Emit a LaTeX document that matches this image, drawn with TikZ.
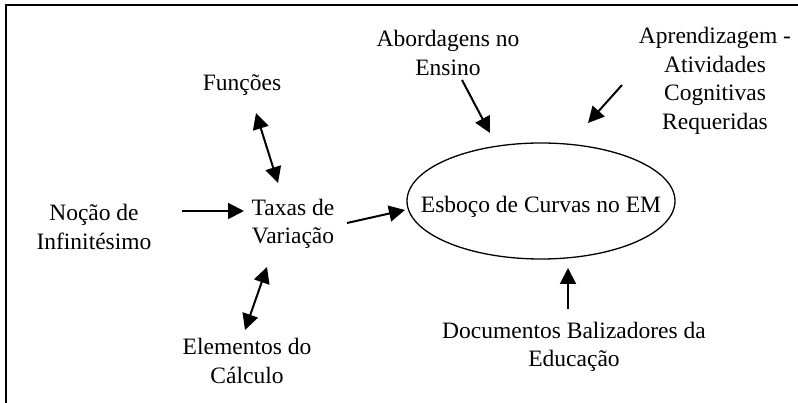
\documentclass[tikz,border=0pt]{standalone}
\usepackage{fontspec}
\setmainfont{Liberation Serif}
\usetikzlibrary{arrows.meta,shapes.geometric}
\begin{document}
\begin{tikzpicture}[x=1pt,y=-1pt,
  lbl/.style={inner sep=0pt,align=center,font=\fontsize{23.5}{28.5}\selectfont},
  arr/.style={line width=2pt,-{Triangle[length=16pt,width=16pt]}},
  darr/.style={line width=2pt,{Triangle[length=16pt,width=16pt]}-{Triangle[length=16pt,width=16pt]}}]
\useasboundingbox (0,0) rectangle (798,403);
\draw[line width=2.2pt] (6,403) -- (6,5) -- (798,5);
\node[lbl] (fun) at (242,85) {Funções};
\node[lbl] (abo) at (448,53) {Abordagens no\\Ensino};
\node[lbl] (apr) at (715,81) {Aprendizagem -\\Atividades\\Cognitivas\\Requeridas};
\node[lbl] (noc) at (94,227) {Noção de\\Infinitésimo};
\node[lbl] (tax) at (293,224) {Taxas de\\Variação};
\node[lbl] (ele) at (247,361) {Elementos do\\Cálculo};
\node[lbl] (doc) at (574,347) {Documentos Balizadores da\\Educação};
\node[draw,line width=1.3pt,ellipse,minimum width=268pt,minimum height=116pt,inner sep=0pt] (esb) at (541,201) {};
\node[lbl] (esbt) at (541,207) {Esboço de Curvas no EM};
% connectors
\coordinate (f1) at (256,113); \coordinate (f2) at (278,183);
\draw[darr] (f1) -- (f2);
\coordinate (e1) at (267,267); \coordinate (e2) at (245,330);
\draw[darr] (e1) -- (e2);
\coordinate (n1) at (182,211); \coordinate (n2) at (244,211);
\draw[arr] (n1) -- (n2);
\coordinate (t1) at (347,223); \coordinate (t2) at (405,210);
\draw[arr] (t1) -- (t2);
\coordinate (a1) at (462,80); \coordinate (a2) at (490,133);
\draw[arr] (a1) -- (a2);
\coordinate (p1) at (622,85); \coordinate (p2) at (588,123);
\draw[arr] (p1) -- (p2);
\coordinate (d1) at (568,309); \coordinate (d2) at (568,268);
\draw[arr] (d1) -- (d2);
\end{tikzpicture}
\end{document}
